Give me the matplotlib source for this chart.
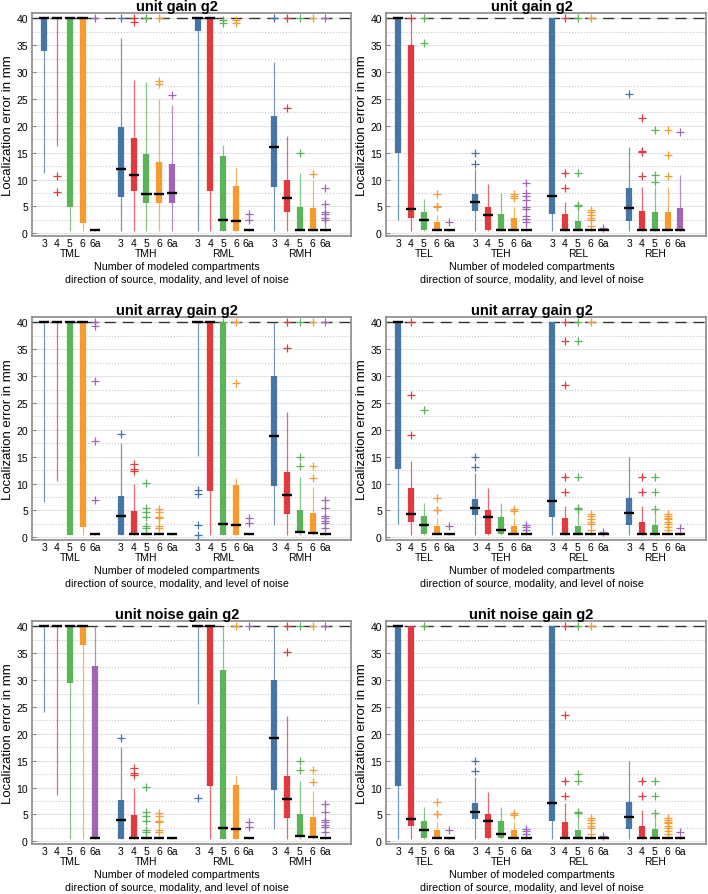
import numpy as np
import matplotlib
matplotlib.use('Agg')
import matplotlib.pyplot as plt

plt.rcParams['font.family'] = ['Liberation Sans', 'DejaVu Sans']

variants = ['3', '4', '5', '6', '6a']
colors = ['#4575a7', '#e0393e', '#5cb35a', '#f99a2f', '#a265b4']
left_groups = ['TML', 'TMH', 'RML', 'RMH']
right_groups = ['TEL', 'TEH', 'REL', 'REH']
titles = ['unit gain g2', 'unit array gain g2', 'unit noise gain g2']

# each row: whisker low, q1, median, q3, whisker high  (mm)
gain_left_stats = [
    [11.2, 33.9, 40, 40, 40], [16.2, 40, 40, 40, 40], [0.5, 4.9, 40, 40, 40], [0.5, 2.0, 40, 40, 40], [0.5, 0.5, 0.6, 0.7, 0.7],
    [0.5, 6.8, 12.0, 19.7, 36.3], [0.5, 7.9, 10.9, 17.7, 28.5], [0.5, 5.6, 7.4, 14.8, 28.2], [0.5, 5.6, 7.3, 13.3, 25.0], [0.5, 5.6, 7.5, 12.9, 23.8],
    [0.5, 37.7, 40, 40, 40], [0.5, 7.9, 40, 40, 40], [0.5, 0.5, 2.5, 14.4, 16.5], [0.5, 0.5, 2.3, 8.8, 12.3], [0.5, 0.5, 0.6, 0.7, 0.7],
    [0.5, 8.6, 16.1, 21.9, 31.8], [0.5, 3.9, 6.6, 10.0, 18.1], [0.5, 0.5, 0.6, 4.9, 11.2], [0.5, 0.5, 0.6, 4.8, 10.0], [0.5, 0.5, 0.6, 0.7, 2.2],
]
gain_left_fliers = [
    [], [10.6, 7.7], [], [], [40],
    [40], [40, 39.3], [40], [40, 28.3, 27.7], [25.8],
    [], [], [39.7, 39.1], [39.7, 39.1], [3.6, 2.5],
    [40], [23.4, 40], [14.9, 40], [11.1, 40], [8.5, 5.4, 4.0, 3.6, 2.9, 2.5, 40],
]
gain_right_stats = [
    [2.5, 15.0, 40, 40, 40], [0.5, 2.9, 4.5, 35.0, 40], [0.5, 0.6, 2.4, 4.0, 6.4], [0.5, 0.5, 0.6, 2.1, 3.5], [0.5, 0.5, 0.6, 0.7, 0.7],
    [0.5, 4.1, 5.9, 7.4, 12.0], [0.5, 0.6, 3.5, 4.9, 9.1], [0.5, 0.5, 0.6, 3.6, 7.5], [0.5, 0.5, 0.6, 2.8, 4.9], [0.5, 0.5, 0.6, 0.7, 1.8],
    [0.5, 3.6, 7.0, 40, 40], [0.5, 0.5, 0.6, 3.6, 5.8], [0.5, 0.5, 0.6, 2.2, 5.0], [0.5, 0.5, 0.6, 0.7, 1.0], [0.5, 0.5, 0.6, 0.7, 0.7],
    [0.5, 2.2, 4.7, 8.4, 16.0], [0.5, 0.5, 0.6, 4.1, 8.7], [0.5, 0.5, 0.6, 4.0, 8.7], [0.5, 0.5, 0.6, 4.0, 8.6], [0.5, 0.5, 0.6, 4.7, 10.8],
]
gain_right_fliers = [
    [], [40], [35.4, 40], [7.4, 5.1, 4.9], [2.1],
    [12.9, 15.0], [], [], [7.4, 7.0, 6.5], [9.4, 7.5, 6.9, 6.2, 4.9, 4.6, 3.3, 2.6, 2.1],
    [], [8.5, 11.3, 40], [5.3, 5.1, 11.3, 40], [1.3, 2.4, 2.9, 3.4, 4.0, 4.4, 40], [0.9],
    [26.0], [10.7, 15.2, 15.4, 21.5], [9.6, 10.8, 19.3], [10.7, 14.6, 19.3], [18.9],
]
array_left_stats = [
    [6.6, 40, 40, 40, 40], [10.5, 40, 40, 40, 40], [0.5, 0.5, 40, 40, 40], [0.5, 2.0, 40, 40, 40], [0.5, 0.5, 0.6, 0.7, 0.7],
    [0.5, 0.5, 4.0, 7.7, 17.5], [0.5, 0.5, 0.6, 4.9, 10.0], [0.5, 0.5, 0.6, 0.7, 1.5], [0.5, 0.5, 0.6, 0.7, 1.5], [0.5, 0.5, 0.6, 0.7, 0.7],
    [15.2, 40, 40, 40, 40], [0.5, 8.7, 40, 40, 40], [0.5, 0.5, 2.5, 40, 40], [0.5, 0.5, 2.3, 9.7, 11.1], [0.5, 0.5, 0.6, 0.7, 0.7],
    [2.2, 9.6, 18.9, 30.0, 40], [0.5, 4.3, 7.9, 12.2, 23.3], [0.5, 0.9, 1.0, 5.0, 11.2], [0.5, 0.6, 0.8, 4.6, 9.3], [0.5, 0.5, 0.6, 0.7, 0.7],
]
array_left_fliers = [
    [], [], [], [], [40, 39.3, 29.0, 18.0, 7.0],
    [19.2], [12.4, 12.7, 13.7], [10.2, 5.4, 4.7, 3.7, 2.1, 1.8], [5.3, 4.7, 3.8, 3.6, 2.1, 1.8], [],
    [8.8, 8.0, 2.2, 0.5], [], [40], [28.8, 40], [3.6, 2.6],
    [], [35.2, 40], [13.3, 14.9, 40], [11.1, 13.3, 40], [7.0, 5.4, 4.0, 3.6, 3.1, 2.6, 1.8, 40],
]
array_right_stats = [
    [2.5, 12.7, 40, 40, 40], [0.5, 2.9, 4.4, 9.2, 14.2], [0.5, 0.6, 2.2, 3.9, 6.4], [0.5, 0.5, 0.6, 2.1, 3.6], [0.5, 0.5, 0.6, 0.7, 0.7],
    [0.5, 4.1, 5.4, 7.2, 12.0], [0.5, 0.6, 3.7, 5.0, 9.1], [0.5, 0.6, 1.4, 3.7, 6.4], [0.5, 0.5, 0.6, 2.1, 3.6], [0.5, 0.5, 0.6, 0.7, 0.9],
    [0.5, 3.7, 6.7, 40, 40], [0.5, 0.5, 0.6, 3.6, 5.8], [0.5, 0.5, 0.6, 2.1, 5.0], [0.5, 0.5, 0.6, 0.7, 1.0], [0.5, 0.5, 0.6, 0.7, 0.7],
    [0.5, 2.2, 4.5, 7.3, 15.0], [0.5, 0.5, 0.6, 2.8, 5.8], [0.5, 0.5, 0.6, 2.2, 5.0], [0.5, 0.5, 0.6, 0.7, 1.0], [0.5, 0.5, 0.6, 0.7, 0.7],
]
array_right_fliers = [
    [], [19.1, 26.4, 40], [23.7], [5.0, 5.1, 7.4], [2.1],
    [13.0, 15.0], [], [], [4.9, 5.2], [1.3, 1.9, 2.2],
    [], [8.5, 11.3, 28.4, 36.5, 40], [5.3, 5.5, 11.3, 36.5, 40], [1.3, 2.4, 2.9, 3.4, 4.0, 4.4, 40], [0.9],
    [], [8.5, 11.3], [5.2, 8.5, 11.3], [1.3, 1.9, 2.4, 2.9, 3.4, 3.6, 4.0, 4.4], [1.8],
]
noise_left_stats = [
    [24.1, 40, 40, 40, 40], [8.7, 40, 40, 40, 40], [0.5, 29.4, 40, 40, 40], [0.5, 36.5, 40, 40, 40], [0.5, 0.5, 0.6, 32.6, 40],
    [0.5, 0.5, 4.0, 7.7, 17.5], [0.5, 0.5, 0.6, 4.9, 10.0], [0.5, 0.5, 0.6, 0.7, 1.5], [0.5, 0.5, 0.6, 0.7, 1.5], [0.5, 0.5, 0.6, 0.7, 0.7],
    [25.6, 40, 40, 40, 40], [0.5, 10.3, 40, 40, 40], [0.5, 0.5, 2.5, 31.9, 40], [0.5, 0.5, 2.3, 10.5, 12.3], [0.5, 0.5, 0.6, 0.7, 0.7],
    [2.2, 9.6, 19.2, 30.0, 40], [0.5, 4.3, 7.9, 12.2, 23.3], [0.5, 0.9, 1.0, 5.0, 11.2], [0.5, 0.6, 0.8, 4.6, 9.3], [0.5, 0.5, 0.6, 0.7, 0.7],
]
noise_left_fliers = [
    [], [], [], [], [],
    [19.2], [12.4, 12.7, 13.7], [10.2, 5.4, 4.7, 3.7, 2.1, 1.8], [5.3, 4.7, 3.8, 3.6, 2.1, 1.8], [],
    [8.1], [], [], [40], [3.6, 2.6, 40],
    [], [35.2, 40], [13.3, 14.9, 40], [11.1, 13.3, 40], [7.0, 5.4, 4.0, 3.6, 3.1, 2.6, 1.8, 40],
]
noise_right_stats = [
    [0.5, 10.3, 40, 40, 40], [0.5, 2.9, 4.2, 40, 40], [0.5, 0.6, 2.1, 3.7, 6.4], [0.5, 0.5, 0.6, 2.1, 3.6], [0.5, 0.5, 0.6, 0.7, 0.7],
    [0.5, 4.1, 5.4, 7.2, 12.0], [0.5, 0.6, 3.7, 5.0, 9.1], [0.5, 0.6, 1.4, 3.7, 6.4], [0.5, 0.5, 0.6, 2.1, 3.6], [0.5, 0.5, 0.6, 0.7, 0.9],
    [0.5, 3.8, 7.1, 40, 40], [0.5, 0.5, 0.6, 3.6, 7.2], [0.5, 0.5, 0.6, 2.1, 5.0], [0.5, 0.5, 0.6, 0.7, 1.0], [0.5, 0.5, 0.6, 0.7, 0.7],
    [0.5, 2.2, 4.5, 7.3, 15.0], [0.5, 0.5, 0.6, 2.8, 5.8], [0.5, 0.5, 0.6, 2.2, 5.0], [0.5, 0.5, 0.6, 0.7, 1.0], [0.5, 0.5, 0.6, 0.7, 0.7],
]
noise_right_fliers = [
    [], [], [40], [5.0, 5.1, 7.4], [2.1],
    [13.0, 15.0], [], [], [4.9, 5.2], [1.3, 1.9, 2.2],
    [], [8.5, 11.3, 23.5, 40], [5.3, 5.5, 11.3, 12.5, 40], [1.3, 2.4, 2.9, 3.4, 4.0, 4.4, 40], [0.9],
    [], [8.5, 11.3], [5.2, 8.5, 11.3], [1.3, 1.9, 2.4, 2.9, 3.4, 3.6, 4.0, 4.4], [1.8],
]

PX = 0.72  # points per pixel at 100 dpi
TEXT_X = 0.455  # title / xlabel centre, a bit left of the box centre


def draw_panel(ax, stats, fliers, groups, title):
    n = len(variants)
    pos = [6 * g + k + 1 for g in range(len(groups)) for k in range(n)]
    ax.axhline(40, color='#333333', lw=1.0, ls=(0, (8, 5)), zorder=1.5)
    for i, (p, s) in enumerate(zip(pos, stats)):
        c = colors[i % n]
        lo, q1, med, q3, hi = s
        ax.vlines(p, lo, hi, color=c, lw=0.9, alpha=0.75, zorder=2)
        ax.vlines(p, q1, q3, color=c, lw=4.5, zorder=3, capstyle='butt')
        ax.hlines(med, p - 0.4, p + 0.4, color='black', lw=1.7, zorder=4)
        if fliers[i]:
            ax.plot([p] * len(fliers[i]), fliers[i], ls='none', marker='+',
                    ms=6, mew=0.9, color=c, zorder=3)

    ax.set_xlim(0.05, 25.0)
    ax.set_ylim(-0.5, 41)
    ax.set_yticks(np.arange(0, 41, 5))
    ax.set_yticks(np.arange(0, 41, 2.5), minor=True)
    ax.grid(axis='y', which='major', color='#e4e4e4', lw=0.8, zorder=0)
    ax.grid(axis='y', which='minor', color='#c8c8c8', ls=':', lw=0.8, zorder=0)
    ax.set_axisbelow(True)
    ax.set_xticks(pos, variants * len(groups))
    ax.tick_params(axis='x', length=0, pad=1.5, labelsize=7.5)
    ax.tick_params(axis='y', which='major', direction='in', length=3, pad=3,
                   labelsize=7.5, color='#888888')
    ax.tick_params(axis='y', which='minor', length=0)
    for sp in ax.spines.values():
        sp.set_color('#8a8a8a')
        sp.set_linewidth(1.2)

    for g, name in enumerate(groups):
        cx = np.mean(pos[g * n:(g + 1) * n])
        ax.annotate(name, xy=(cx, 0), xycoords=('data', 'axes fraction'),
                    xytext=(0, -17 * PX), textcoords='offset points',
                    ha='center', va='center', fontsize=7.5)
    ax.annotate('Number of modeled compartments', xy=(TEXT_X, 0), xycoords='axes fraction',
                xytext=(0, -30 * PX), textcoords='offset points',
                ha='center', va='center', fontsize=7.7)
    ax.annotate('direction of source, modality, and level of noise', xy=(TEXT_X, 0),
                xycoords='axes fraction', xytext=(0, -43 * PX),
                textcoords='offset points', ha='center', va='center', fontsize=7.7)
    ax.set_ylabel('Localization error in mm', fontsize=9.5)
    ax.yaxis.set_label_coords(-0.056, 0.5)
    ax.set_title(title, fontsize=10.5, fontweight='bold', pad=1.5, x=TEXT_X)


W, H = 708, 895
fig = plt.figure(figsize=(W / 100, H / 100), dpi=100)
rows = [(14, 237), (318, 541), (622, 845)]
cols = [(32, 351), (386, 706)]
panels = [
    (gain_left_stats, gain_left_fliers, gain_right_stats, gain_right_fliers),
    (array_left_stats, array_left_fliers, array_right_stats, array_right_fliers),
    (noise_left_stats, noise_left_fliers, noise_right_stats, noise_right_fliers),
]
for r, (top, bot) in enumerate(rows):
    ls, lf, rs, rf = panels[r]
    for c, (x0, x1) in enumerate(cols):
        ax = fig.add_axes([x0 / W, 1 - bot / H, (x1 - x0) / W, (bot - top) / H])
        if c == 0:
            draw_panel(ax, ls, lf, left_groups, titles[r])
        else:
            draw_panel(ax, rs, rf, right_groups, titles[r])

fig.savefig('out.png', dpi=100)
